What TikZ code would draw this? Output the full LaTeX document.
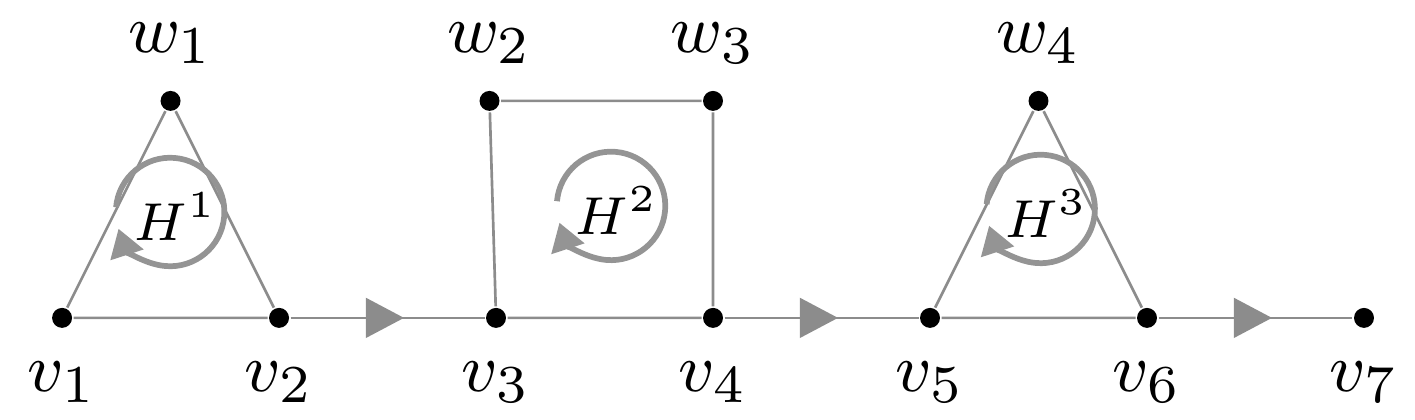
\documentclass[tikz,border=0pt]{standalone}
\usepackage{amsmath}
\usetikzlibrary{arrows.meta, decorations.markings}

\tikzset{
  punkt/.style={circle, fill=black, inner sep=0pt, minimum size=0.092cm},
  kante/.style={draw=black!45, line width=0.35pt},
  pfeilkante/.style={kante, postaction={decorate},
    decoration={markings, mark=at position 0.585 with
      {\arrow[black!45]{Triangle[length=5pt, width=5.2pt]}}}},
  umlauf/.style={black!42, line width=0.75pt, -{Triangle[length=3.6pt, width=4.4pt]}},
  labunten/.style={anchor=center, label distance=0.244cm},
  laboben/.style={anchor=center, label distance=0.214cm}
}

\begin{document}
\begin{tikzpicture}[font=\fontsize{9.5}{12}\selectfont]
\useasboundingbox (-0.286,-0.470) rectangle (6.235,1.465);

% Knoten unten
\foreach \i/\x in {1/0,2/1,3/2,4/3,5/4,6/5,7/6}
{
    \node[punkt, label={[labunten]below:$v_{\i}$}] (v\i) at (\x,0) {};
}

% Knoten oben
\node[punkt, label={[laboben]above:$w_1$}] (w1) at (0.5,1) {};
\node[punkt, label={[laboben]above:$w_2$}] (w2) at (1.97,1) {};
\node[punkt, label={[laboben]above:$w_3$}] (w3) at (3,1) {};
\node[punkt, label={[laboben]above:$w_4$}] (w4) at (4.5,1) {};

% Kanten
\draw[kante] (v1) -- (v2) -- (w1) -- (v1);
\draw[kante] (v3) -- (w2) -- (w3) -- (v4) -- (v3);
\draw[kante] (v5) -- (v6) -- (w4) -- (v5);

% Verbindungen mit Pfeil
\draw[pfeilkante] (v2) -- (v3);
\draw[pfeilkante] (v4) -- (v5);
\draw[pfeilkante] (v6) -- (v7);

% Umlaufsinn
\foreach \k/\x/\y in {1/0.498/0.488,2/2.53/0.516,3/4.51/0.502}
{
    \node[font=\fontsize{6.7}{8}\selectfont] (h\k) at (\x+0.025,\y-0.02) {$H^{\k}$};
    \draw[umlauf] (\x,\y) ++(175:0.25) arc[start angle=175, end angle=-162, radius=0.25];
}

\end{tikzpicture}
\end{document}
